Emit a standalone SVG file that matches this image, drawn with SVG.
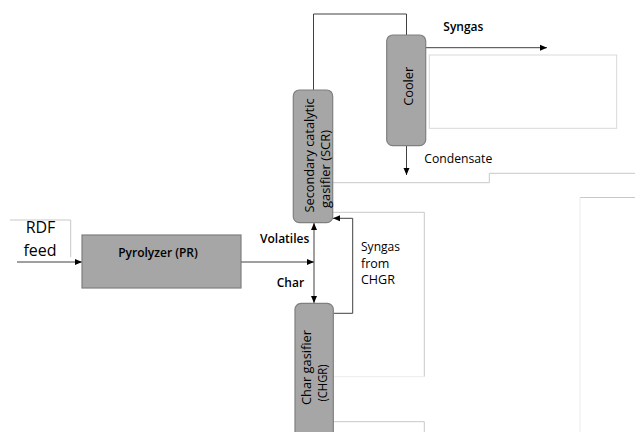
<svg xmlns="http://www.w3.org/2000/svg" width="635" height="432" viewBox="0 0 635 432">
<style>
.box{fill:#a6a6a6;stroke:#7f7f7f;stroke-width:1.2}
.ln{fill:none;stroke:#404040;stroke-width:1}
.lt{fill:none;stroke:#c8c8c8;stroke-width:1}
.fa{fill:none;stroke:#ececec;stroke-width:1}
.t{font-family:"Open Sans","Liberation Sans",sans-serif;font-size:12px;fill:#000}
.b{font-weight:600}
.r{font-size:13px}
.m{font-size:12.5px}
.big{font-size:16px}
</style>
<defs>
<marker id="ah" markerUnits="userSpaceOnUse" markerWidth="8" markerHeight="8" viewBox="0 0 8 8" refX="7" refY="4" orient="auto">
<path d="M0,1 L7,4 L0,7 Z" fill="#000"/>
</marker>
</defs>
<g id="background-lines">
<path class="lt" d="M10 220 H70.7 V257"/>
<rect x="429.3" y="55" width="187.4" height="73.3" fill="none" stroke="#d9d9d9" stroke-width="1"/>
<path class="lt" d="M333 182.7 H489.3 V173.3 H635"/>
<path class="lt" d="M580 197.5 H635"/>
<path class="fa" d="M580 197.5 V432"/>
<path class="lt" d="M333 212.3 H424.3 V376.7"/>
<path class="fa" d="M333 376.7 H424.3"/>
<path class="lt" d="M333 421.7 H424.3 V432"/>
</g>
<g id="connectors">
<path class="ln" d="M17 262 H82" marker-end="url(#ah)"/>
<path class="ln" d="M241 262 H314" marker-end="url(#ah)"/>
<path class="ln" d="M314 262 V223" marker-end="url(#ah)"/>
<path class="ln" d="M314 262 V303" marker-end="url(#ah)"/>
<path class="ln" d="M313.5 90 V14 H406.5 V35"/>
<path class="ln" d="M426 47.7 H547" marker-end="url(#ah)"/>
<path class="ln" d="M406.5 146 V175" marker-end="url(#ah)"/>
<path class="ln" d="M333.5 313.3 H352.7 V218.3 H333" marker-end="url(#ah)"/>
</g>
<g id="rdf-feed">
<text class="t big" x="40.5" y="233.3" text-anchor="middle">RDF</text>
<text class="t big" x="40" y="255.7" text-anchor="middle">feed</text>
</g>
<g id="pyrolyzer">
<rect class="box" x="82" y="235" width="159" height="53"/>
<text class="t b" x="158" y="257.3" text-anchor="middle">Pyrolyzer (PR)</text>
</g>
<g id="scr">
<rect class="box" x="293.3" y="90" width="39.4" height="132.7" rx="6"/>
<text class="t r" transform="translate(313.5,155.5) rotate(-90)" text-anchor="middle" textLength="114" lengthAdjust="spacingAndGlyphs">Secondary catalytic</text>
<text class="t r" transform="translate(329.5,169) rotate(-90)" text-anchor="middle" textLength="78" lengthAdjust="spacingAndGlyphs">gasifier (SCR)</text>
</g>
<g id="cooler">
<rect class="box" x="386.7" y="35" width="39" height="110.7" rx="6"/>
<text class="t r" transform="translate(412.5,86.3) rotate(-90)" text-anchor="middle" textLength="39" lengthAdjust="spacingAndGlyphs">Cooler</text>
</g>
<g id="chgr">
<rect class="box" x="295" y="303.3" width="38.3" height="145" rx="6"/>
<text class="t r" transform="translate(311,367.5) rotate(-90)" text-anchor="middle" textLength="75" lengthAdjust="spacingAndGlyphs">Char gasifier</text>
<text class="t r" transform="translate(326.5,383) rotate(-90)" text-anchor="middle" textLength="37" lengthAdjust="spacingAndGlyphs">(CHGR)</text>
</g>
<g id="labels">
<text class="t b" x="443.3" y="31">Syngas</text>
<text class="t m" x="424.3" y="163.3" textLength="68" lengthAdjust="spacingAndGlyphs">Condensate</text>
<text class="t b" x="260" y="242.5">Volatiles</text>
<text class="t b" x="276.7" y="286.7">Char</text>
<text class="t m" x="361" y="251" textLength="39" lengthAdjust="spacingAndGlyphs">Syngas</text>
<text class="t m" x="361" y="267.7">from</text>
<text class="t m" x="361" y="284.3">CHGR</text>
</g>
</svg>
